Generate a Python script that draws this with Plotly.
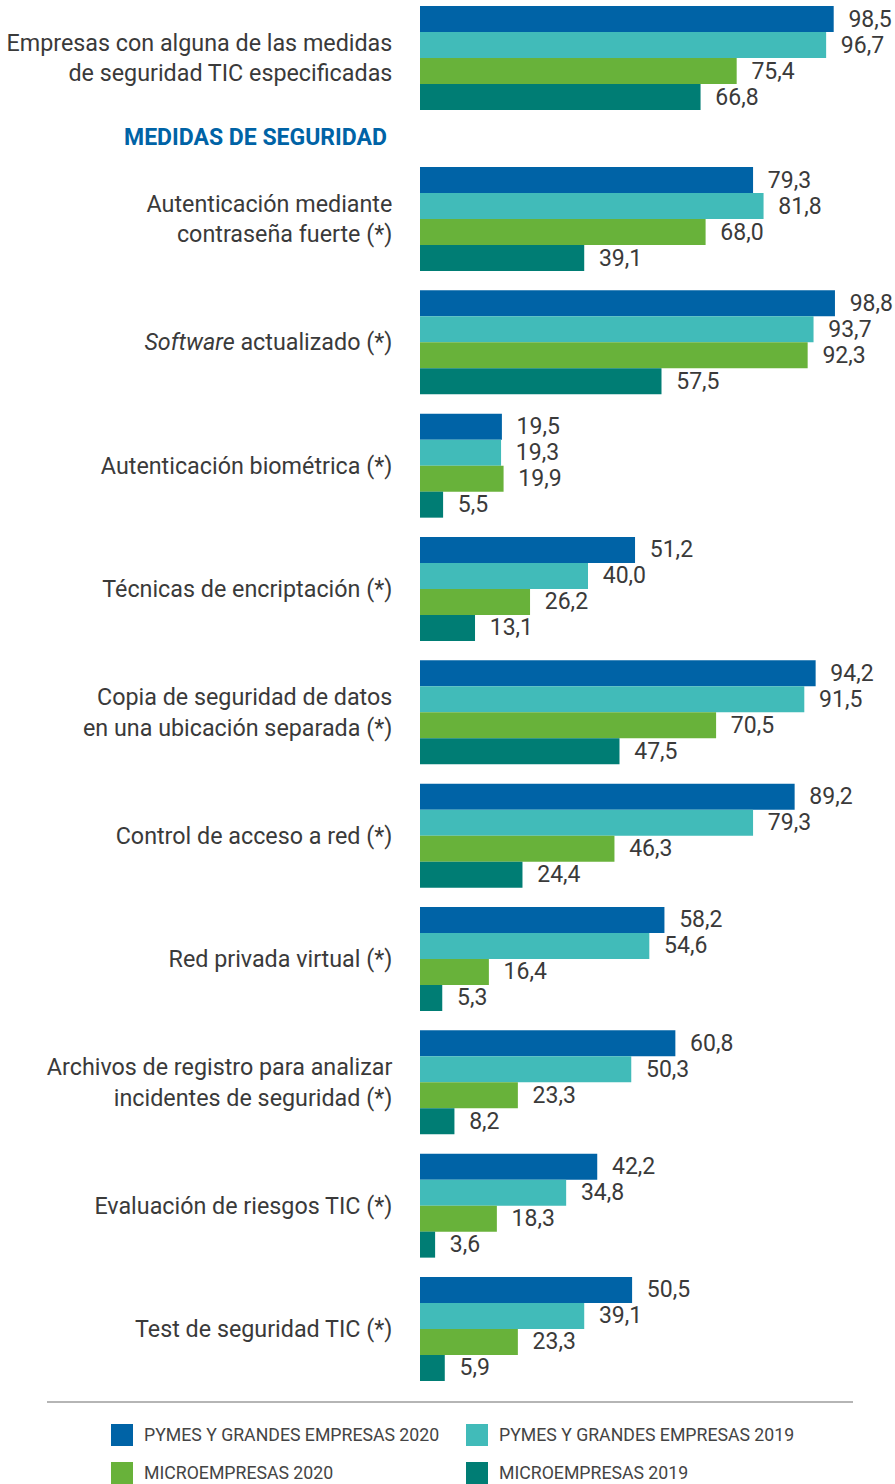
import plotly.graph_objects as go
from plotly.subplots import make_subplots

# ---- data ----
series_names = [
    "PYMES Y GRANDES EMPRESAS 2020",
    "PYMES Y GRANDES EMPRESAS 2019",
    "MICROEMPRESAS 2020",
    "MICROEMPRESAS 2019",
]
series_colors = ["#0063a6", "#41bbb9", "#68b23a", "#007d74"]

top_category = ["Empresas con alguna de las medidas<br>de seguridad TIC especificadas"]
top_values = [[98.5], [96.7], [75.4], [66.8]]

measures = [
    "Autenticación mediante<br>contraseña fuerte (*)",
    "<i>Software</i> actualizado (*)",
    "Autenticación biométrica (*)",
    "Técnicas de encriptación (*)",
    "Copia de seguridad de datos<br>en una ubicación separada (*)",
    "Control de acceso a red (*)",
    "Red privada virtual (*)",
    "Archivos de registro para analizar<br>incidentes de seguridad (*)",
    "Evaluación de riesgos TIC (*)",
    "Test de seguridad TIC (*)",
]
pymes_2020 = [79.3, 98.8, 19.5, 51.2, 94.2, 89.2, 58.2, 60.8, 42.2, 50.5]
pymes_2019 = [81.8, 93.7, 19.3, 40.0, 91.5, 79.3, 54.6, 50.3, 34.8, 39.1]
micro_2020 = [68.0, 92.3, 19.9, 26.2, 70.5, 46.3, 16.4, 23.3, 18.3, 23.3]
micro_2019 = [39.1, 57.5, 5.5, 13.1, 47.5, 24.4, 5.3, 8.2, 3.6, 5.9]
measure_values = [pymes_2020, pymes_2019, micro_2020, micro_2019]

header_text = "MEDIDAS DE SEGURIDAD"

# ---- layout geometry (pixels) ----
W, H = 895, 1484
ML, MR = 420, 55
PLOT_BOTTOM = 1400           # plot area runs from top of page to here
MB = H - PLOT_BOTTOM
PLOT_W = W - ML - MR
pitch = 123.33
bar_block = 104


def py(p):
    """pixel y -> paper y"""
    return (PLOT_BOTTOM - p) / PLOT_BOTTOM


def px(p):
    """pixel x -> paper x"""
    return (p - ML) / PLOT_W


FONT = "Roboto, Inter, sans-serif"
TXT = "#3a3a3a"

fig = make_subplots(rows=2, cols=1)

for i, name in enumerate(series_names):
    common = dict(
        orientation="h",
        name=name,
        marker=dict(color=series_colors[i], line=dict(width=0)),
        texttemplate="\u2002%{x:.1f}",
        textposition="outside",
        outsidetextfont=dict(family=FONT, size=23, color=TXT),
        constraintext="none",
        cliponaxis=False,
        showlegend=False,
        hoverinfo="skip",
    )
    fig.add_trace(go.Bar(x=top_values[i], y=top_category, **common), row=1, col=1)
    fig.add_trace(go.Bar(x=measure_values[i], y=measures, **common), row=2, col=1)

yaxis_common = dict(
    type="category",
    ticks="outside",
    ticklen=22,
    tickcolor="rgba(0,0,0,0)",
    showgrid=False,
    showline=False,
    zeroline=False,
    tickfont=dict(family=FONT, size=23.3, color=TXT),
    fixedrange=True,
)
xaxis_common = dict(range=[0, 100], visible=False, fixedrange=True)

top_center = 58
first_center = 219
fig.update_layout(
    width=W,
    height=H,
    margin=dict(l=ML, r=MR, t=0, b=MB),
    paper_bgcolor="white",
    plot_bgcolor="white",
    barmode="group",
    bargap=1 - bar_block / pitch,
    bargroupgap=0,
    separators=",.",
    font=dict(family=FONT, color=TXT),
    xaxis=dict(**xaxis_common, anchor="y"),
    xaxis2=dict(**xaxis_common, anchor="y2"),
    yaxis=dict(
        **yaxis_common,
        domain=[py(top_center + pitch / 2), 1],
        range=[0.5, -top_center / pitch],
    ),
    yaxis2=dict(
        **yaxis_common,
        domain=[py(first_center + (len(measures) - 0.5) * pitch),
                py(first_center - pitch / 2)],
        range=[len(measures) - 0.5, -0.5],
    ),
)

# section header
fig.add_annotation(
    text="<b>" + header_text + "</b>",
    xref="paper", yref="paper",
    x=px(389), y=py(138),
    xanchor="right", yanchor="middle",
    showarrow=False,
    font=dict(family=FONT, size=23, color="#0063a6"),
)

# separator line above legend
fig.add_shape(
    type="line", xref="paper", yref="paper",
    x0=px(47), x1=px(853), y0=py(1402), y1=py(1402),
    line=dict(color="#b5b5b5", width=2),
)

# legend (2 x 2 grid)
leg_cols = [111, 466]
leg_rows = [1435, 1473]
for i, name in enumerate(series_names):
    cx = leg_cols[i % 2]
    cy = leg_rows[i // 2]
    fig.add_shape(
        type="rect", xref="paper", yref="paper",
        x0=px(cx), x1=px(cx + 22), y0=py(cy - 11), y1=py(cy + 11),
        fillcolor=series_colors[i], line=dict(width=0),
    )
    fig.add_annotation(
        text=name,
        xref="paper", yref="paper",
        x=px(cx + 31), y=py(cy),
        xanchor="left", yanchor="middle",
        showarrow=False,
        font=dict(family=FONT, size=17.7, color="#444444"),
    )

# drop the default 8px body margin so the figure fills the window exactly
fig.write_html(
    "out.html",
    config={"displayModeBar": False},
    post_script="document.body.style.margin='0';"
                "document.documentElement.style.overflow='hidden';",
)
